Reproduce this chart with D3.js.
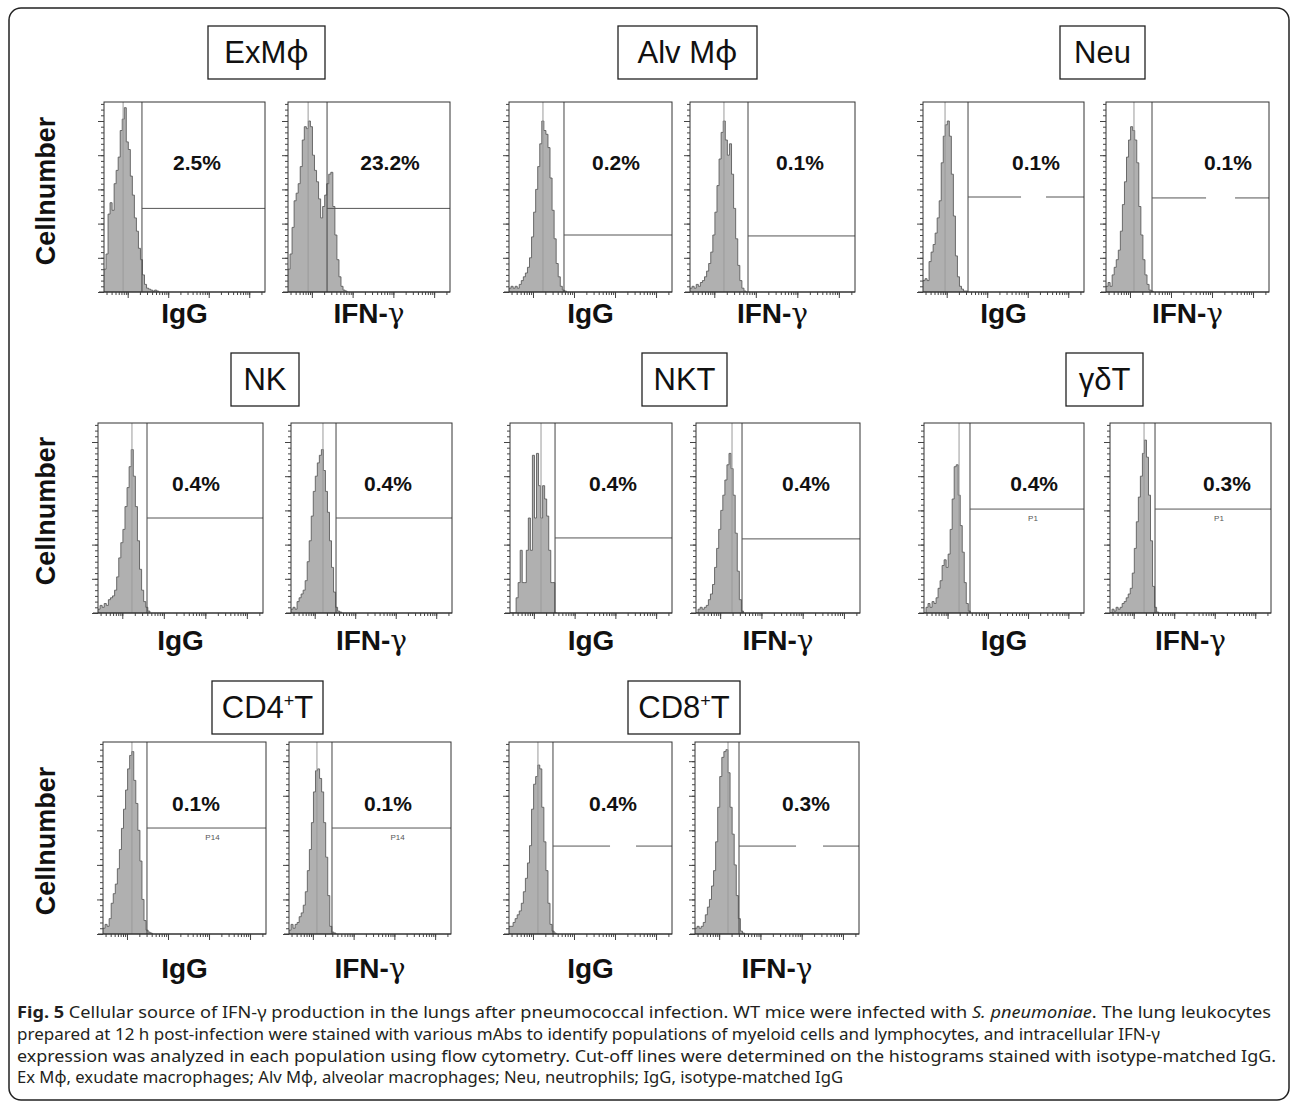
<!DOCTYPE html>
<html>
<head>
<meta charset="utf-8">
<script src="https://cdn.jsdelivr.net/npm/d3@7"></script>
<style>
  body { margin: 0; background: #fff; }
  svg { display: block; }
</style>
</head>
<body>
<div id="app"></div>
<script>
// ---- data ----
const populations = ["ExMφ", "Alv Mφ", "Neu", "NK", "NKT", "γδT", "CD4+T", "CD8+T"];
const stains = ["IgG", "IFN-γ"];
const percentPositive = [[2.5, 23.2], [0.2, 0.1], [0.1, 0.1], [0.4, 0.4], [0.4, 0.4], [0.4, 0.3], [0.1, 0.1], [0.4, 0.3]];

// fluorescence channel values (log axis)
const channelDomain = [26, 245000];
const cutoffs = [[225, 236], [570, 649], [336, 344], [394, 336], [331, 339], [361, 336], [307, 295], [307, 303]];
const medianMarks = [[77, 81], [175, 171], [91, 125], [171, 160], [150, 194], [193, 180], [132, 126], [132, 164]];
const percentAnchors = [[5140, 8280], [10570, 11600], [16000, 24500], [5970, 6430], [8750, 12000], [14100, 20100], [4820, 6980], [8930, 12700]];
// gate marker height, % of max count
const gateHeights = [[44, 44], [30, 29.5], [50, 49.5], [50, 50], [39.5, 39], [54.7, 54.7], [55.2, 55.2], [45.8, 45.8]];
const gateBreaks = [null, null, [[6840, 28300], [7150, 36400]], null, null, null, null, [[7550, 32500], [7300, 32900]]];
const gateNames = [null, null, null, null, null, ["P1", "P1"], ["P14", "P14"], null];

// histogram bins: start at binStart, each bin 0.05 decades wide; counts in % of max
const binStart = 26;
const binLogStep = 0.05;
const histExMIgG = [12, 20, 41, 47, 43, 57, 64, 71, 85, 91, 97, 79, 75, 61, 51, 39, 32, 23, 17, 9, 4, 2, 1.5, 1, 0.5, 1, 0.5];
const histExMIfn = [12, 20, 34, 48, 52, 57, 66, 80, 87, 86, 90, 87, 72, 64, 58, 49, 39, 45, 51, 57, 62, 63, 45, 30, 17, 8, 3, 1, 0.5];
const histAlvIgG = [2, 3, 2, 3, 2, 4, 6, 8, 10, 13, 18, 29, 42, 54, 66, 78, 90, 85, 83, 76, 60, 43, 28, 15, 8, 3, 1, 0.5];
const histAlvIfn = [2, 3, 2, 4, 3, 5, 6, 8, 11, 15, 21, 30, 42, 56, 70, 84, 90, 80, 72, 78, 62, 44, 28, 14, 6, 2, 0.5];
const histNeuIgG = [6, 7, 6, 16, 21, 25, 31, 39, 48, 68, 82, 88, 90, 82, 62, 40, 19, 8, 3, 1.5, 0.5, 0.5];
const histNeuIfn = [3, 5, 3, 9, 13, 17, 22, 32, 46, 58, 71, 80, 87, 85, 80, 68, 45, 30, 17, 9, 4, 1, 0.5];
const histNkIgG = [2, 4, 3, 5, 4, 7, 8, 9, 12, 19, 29, 37, 44, 56, 66, 77, 86, 72, 56, 38, 23, 12, 6, 3, 1];
const histNkIfn = [2, 3, 2, 6, 8, 10, 12, 17, 27, 38, 51, 64, 72, 79, 83, 86, 75, 64, 53, 38, 24, 11, 3, 1, 0.5];
const histNktIgG = [0, 0, 0, 8, 16, 33, 16, 16, 33, 50, 33, 83, 50, 84, 67, 50, 67, 60, 51, 33, 16, 16, 0];
const histNktIfn = [0, 2, 3, 2, 3, 4, 7, 10, 15, 24, 34, 44, 54, 62, 70, 78, 84, 76, 62, 42, 22, 7, 1];
const histGdtIgG = [0, 3, 5, 3, 6, 5, 8, 13, 17, 25, 28, 24, 31, 44, 60, 77, 78, 62, 46, 32, 16, 5, 1];
const histGdtIfn = [0, 2, 1, 3, 2, 3, 5, 6, 8, 10, 13, 21, 34, 48, 61, 72, 84, 91, 82, 62, 38, 14, 3, 0.5];
const histCd4IgG = [3, 5, 4, 8, 16, 21, 26, 34, 44, 55, 65, 75, 86, 93, 95, 80, 68, 54, 38, 18, 7, 2, 1, 0.5];
const histCd4Ifn = [2, 5, 3, 5, 6, 9, 11, 15, 22, 33, 44, 58, 74, 85, 86, 81, 74, 58, 40, 20, 4, 1, 0.5];
const histCd8IgG = [4, 4, 6, 8, 10, 12, 16, 22, 29, 37, 46, 65, 78, 82, 88, 86, 66, 48, 33, 16, 5, 1.5, 0.5];
const histCd8Ifn = [3, 4, 3, 4, 6, 10, 14, 18, 25, 33, 48, 66, 82, 92, 95, 96, 84, 66, 52, 36, 20, 8, 1.5, 0.5];

const histograms = [
  [histExMIgG, histExMIfn], [histAlvIgG, histAlvIfn], [histNeuIgG, histNeuIfn],
  [histNkIgG, histNkIfn], [histNktIgG, histNktIfn], [histGdtIgG, histGdtIfn],
  [histCd4IgG, histCd4Ifn], [histCd8IgG, histCd8Ifn],
];

const captionLines = [
  [["Fig. 5", "bold"], [" Cellular source of IFN-γ production in the lungs after pneumococcal infection. WT mice were infected with ", ""], ["S. pneumoniae", "italic"], [". The lung leukocytes", ""]],
  [["prepared at 12 h post-infection were stained with various mAbs to identify populations of myeloid cells and lymphocytes, and intracellular IFN-γ", ""]],
  [["expression was analyzed in each population using flow cytometry. Cut-off lines were determined on the histograms stained with isotype-matched IgG.", ""]],
  [["Ex Mφ, exudate macrophages; Alv Mφ, alveolar macrophages; Neu, neutrophils; IgG, isotype-matched IgG", ""]],
];

// ---- layout ----
const width = 1295;
const height = 1109;
const sans = "'Liberation Sans', Arial, Helvetica, sans-serif";
const rows = [
  { titleTop: 26, titleBottom: 79, top: 102, bottom: 292, labelY: 323, cellY: 191 },
  { titleTop: 353, titleBottom: 406, top: 423, bottom: 613, labelY: 650, cellY: 511 },
  { titleTop: 681, titleBottom: 734, top: 742, bottom: 934, labelY: 978, cellY: 841 },
];
const panelX = [
  [[104, 265], [288, 450]], [[509, 672], [690, 855]], [[923, 1084], [1106, 1269]],
  [[98, 263], [291, 452]], [[510, 672], [696, 860]], [[924, 1084], [1110, 1271]],
  [[103, 266], [289, 451]], [[509, 672], [695, 859]],
];
const titleX = [[208, 325], [618, 757], [1060, 1145], [231, 299], [642, 727], [1066, 1143], [212, 323], [628, 740]];
const captionWidths = [1254, 1143, 1259, 826];

const svg = d3.select("#app").append("svg")
  .attr("width", width)
  .attr("height", height)
  .attr("viewBox", `0 0 ${width} ${height}`);

svg.append("rect")
  .attr("x", 9).attr("y", 8)
  .attr("width", 1280).attr("height", 1092)
  .attr("rx", 12)
  .attr("fill", "#fff")
  .attr("stroke", "#222")
  .attr("stroke-width", 1.5);

// Cellnumber labels
rows.forEach((r) => {
  svg.append("text")
    .attr("transform", `translate(55, ${r.cellY}) rotate(-90)`)
    .attr("text-anchor", "middle")
    .attr("font-family", sans)
    .attr("font-weight", "bold")
    .attr("font-size", 27)
    .attr("fill", "#111")
    .text("Cellnumber");
});

populations.forEach((pop, gi) => {
  const r = rows[Math.floor(gi / 3)];

  // title box
  const [tx0, tx1] = titleX[gi];
  svg.append("rect")
    .attr("x", tx0).attr("y", r.titleTop)
    .attr("width", tx1 - tx0).attr("height", r.titleBottom - r.titleTop)
    .attr("fill", "#fff").attr("stroke", "#222").attr("stroke-width", 1.3);
  const title = svg.append("text")
    .attr("x", (tx0 + tx1) / 2)
    .attr("y", r.titleBottom - 16)
    .attr("text-anchor", "middle")
    .attr("font-family", sans)
    .attr("font-size", 31)
    .attr("fill", "#111");
  const sup = pop.match(/^(CD\d)\+(T)$/);
  if (sup) {
    title.append("tspan").text(sup[1]);
    title.append("tspan").attr("font-size", 18).attr("dy", -11).text("+");
    title.append("tspan").attr("dy", 11).text(sup[2]);
  } else if (pop.includes("φ")) {
    title.append("tspan").text(pop.replace("φ", ""));
    title.append("tspan").attr("font-family", "'Noto Sans', sans-serif").text("φ");
  } else {
    title.text(pop);
  }

  stains.forEach((stain, si) => {
    const [x0, x1] = panelX[gi][si];
    const x = d3.scaleLog().domain(channelDomain).range([x0, x1]);
    const y = d3.scaleLinear().domain([0, 100]).range([r.bottom, r.top]);
    const g = svg.append("g");
    const clipId = `clip-${gi}-${si}`;
    svg.append("clipPath").attr("id", clipId)
      .append("rect")
      .attr("x", x0).attr("y", r.top)
      .attr("width", x1 - x0).attr("height", r.bottom - r.top);

    // histogram
    const values = histograms[gi][si];
    const bins = values.map((v, i) => ({ x0: binStart * Math.pow(10, i * binLogStep), v }));
    bins.push({ x0: binStart * Math.pow(10, values.length * binLogStep), v: 0 });
    const area = d3.area()
      .curve(d3.curveStepAfter)
      .x((d) => x(d.x0))
      .y0(y(0))
      .y1((d) => y(d.v));
    const line = d3.line()
      .curve(d3.curveStepAfter)
      .x((d) => x(d.x0))
      .y((d) => y(d.v));
    const hg = g.append("g").attr("clip-path", `url(#${clipId})`);
    hg.append("path").datum(bins)
      .attr("d", area)
      .attr("fill", "#b0b0b0");
    hg.append("path").datum(bins)
      .attr("d", line)
      .attr("fill", "none")
      .attr("stroke", "#5e5e5e")
      .attr("stroke-width", 0.9);

    // median marker
    g.append("line")
      .attr("x1", x(medianMarks[gi][si])).attr("x2", x(medianMarks[gi][si]))
      .attr("y1", r.top).attr("y2", r.bottom)
      .attr("stroke", "#9a9a9a").attr("stroke-width", 1);

    // cut-off line
    const cx = x(cutoffs[gi][si]);
    g.append("line")
      .attr("x1", cx).attr("x2", cx)
      .attr("y1", r.top).attr("y2", r.bottom)
      .attr("stroke", "#444").attr("stroke-width", 1);

    // gate marker
    const gy = y(gateHeights[gi][si]);
    const segs = gateBreaks[gi]
      ? [[cx, x(gateBreaks[gi][si][0])], [x(gateBreaks[gi][si][1]), x1]]
      : [[cx, x1]];
    segs.forEach(([a, b]) => {
      g.append("line")
        .attr("x1", a).attr("x2", b)
        .attr("y1", gy).attr("y2", gy)
        .attr("stroke", "#555").attr("stroke-width", 1);
    });
    if (gateNames[gi]) {
      g.append("text")
        .attr("x", (cx + x1) / 2 + 6)
        .attr("y", gy + 12)
        .attr("text-anchor", "middle")
        .attr("font-family", sans)
        .attr("font-size", 8)
        .attr("fill", "#555")
        .text(gateNames[gi][si]);
    }

    // frame
    g.append("rect")
      .attr("x", x0).attr("y", r.top)
      .attr("width", x1 - x0).attr("height", r.bottom - r.top)
      .attr("fill", "none").attr("stroke", "#333").attr("stroke-width", 1);

    // axes ticks
    const logTicks = x.ticks();
    const majors = logTicks.filter((t) => Math.abs(Math.log10(t) - Math.round(Math.log10(t))) < 1e-9);
    [[logTicks, 3], [majors, 6]].forEach(([vals, size]) => {
      const ax = g.append("g")
        .attr("transform", `translate(0, ${r.bottom})`)
        .call(d3.axisBottom(x).tickValues(vals).tickSize(size).tickFormat(""));
      ax.select(".domain").remove();
      ax.selectAll("line").attr("stroke", "#444");
    });
    [[d3.range(0, 100, 3), 3], [d3.range(0, 100, 18), 6]].forEach(([vals, size]) => {
      const ay = g.append("g")
        .attr("transform", `translate(${x0}, 0)`)
        .call(d3.axisLeft(y).tickValues(vals).tickSize(size).tickFormat(""));
      ay.select(".domain").remove();
      ay.selectAll("line").attr("stroke", "#444");
    });
    g.append("line")
      .attr("x1", x0 - 5).attr("x2", x1)
      .attr("y1", r.bottom).attr("y2", r.bottom)
      .attr("stroke", "#333");

    // percentage
    g.append("text")
      .attr("x", x(percentAnchors[gi][si]))
      .attr("y", y(64))
      .attr("text-anchor", "middle")
      .attr("font-family", sans)
      .attr("font-weight", "bold")
      .attr("font-size", 21)
      .attr("fill", "#111")
      .text(`${percentPositive[gi][si]}%`);

    // stain label
    const lab = g.append("text")
      .attr("x", (x0 + x1) / 2)
      .attr("y", r.labelY)
      .attr("text-anchor", "middle")
      .attr("font-family", sans)
      .attr("font-weight", "bold")
      .attr("font-size", 28)
      .attr("fill", "#111");
    if (stain.includes("γ")) {
      lab.append("tspan").text(stain.replace("γ", ""));
      lab.append("tspan")
        .attr("font-family", "'DejaVu Serif', 'Liberation Serif', serif")
        .attr("font-weight", "normal")
        .text("γ");
    } else {
      lab.text(stain);
    }
  });
});

// caption
captionLines.forEach((parts, i) => {
  const t = svg.append("text")
    .attr("x", 17)
    .attr("y", 1018 + i * 21.8)
    .attr("font-family", "'Noto Sans', 'Open Sans', sans-serif")
    .attr("font-size", 16.5)
    .attr("fill", "#231f20")
    .attr("textLength", captionWidths[i])
    .attr("lengthAdjust", "spacingAndGlyphs");
  parts.forEach(([s, style]) => {
    const sp = t.append("tspan").text(s);
    if (style === "bold") sp.attr("font-weight", "bold");
    if (style === "italic") sp.attr("font-style", "italic");
  });
});
</script>
</body>
</html>
